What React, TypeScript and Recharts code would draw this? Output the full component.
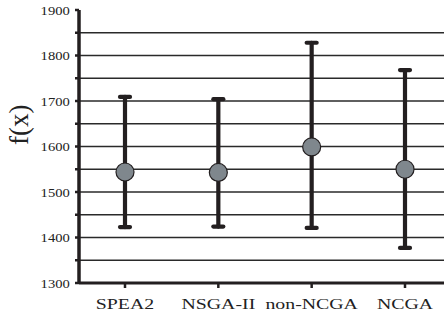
import React from 'react';
import { CartesianGrid, ComposedChart, ErrorBar, Line, XAxis, YAxis } from 'recharts';

// Mean f(x) per algorithm with min/max range bars.
const algorithms = ['SPEA2', 'NSGA-II', 'non-NCGA', 'NCGA'];
const means = [1544, 1543, 1599, 1550];
const lows = [1423, 1424, 1421, 1377];
const highs = [1709, 1704, 1828, 1768];
const yTicks = [1300, 1350, 1400, 1450, 1500, 1550, 1600, 1650, 1700, 1750, 1800, 1850, 1900];
const gridLines = [1350, 1400, 1450, 1500, 1550, 1600, 1650, 1700, 1750, 1800, 1850];

const INK = '#231f20';
const SERIF = '"Liberation Serif", "DejaVu Serif", serif';

const data = algorithms.map((name, i) => ({
  name,
  mean: means[i],
  range: [means[i] - lows[i], highs[i] - means[i]],
}));

function XTick({ x, y, payload }: any) {
  return (
    <g transform={`translate(${x},${y})`}>
      <text transform="scale(1.28,1)" y={19} textAnchor="middle" fontFamily={SERIF} fontSize={15.5} fill="#222">
        {payload.value}
      </text>
    </g>
  );
}

function YTick({ x, y, payload }: any) {
  if (payload.value % 100 !== 0) return null;
  return (
    <g transform={`translate(${x},${y})`}>
      <text transform="scale(1.08,1)" x={-3} dy={4.8} textAnchor="end" fontFamily={SERIF} fontSize={13.5} fill="#222">
        {payload.value}
      </text>
    </g>
  );
}

function YLabel({ viewBox }: any) {
  const cx = viewBox.x + 28;
  const cy = viewBox.y + viewBox.height * 0.42;
  return (
    <text
      transform={`translate(${cx},${cy}) rotate(-90)`}
      textAnchor="middle"
      fontFamily={SERIF}
      fontSize={27}
      fill="#222"
    >
      f(x)
    </text>
  );
}

export default function App() {
  return (
    <div style={{ position: 'absolute', left: 0, top: 0, width: 444, height: 320, overflow: 'hidden', background: '#fff' }}>
      <ComposedChart width={458} height={320} data={data} margin={{ top: 10, right: 6, bottom: 0, left: 0 }}>
        <CartesianGrid horizontal vertical={false} horizontalValues={gridLines} stroke="#2a2a2a" strokeWidth={1.4} />
        <XAxis
          dataKey="name"
          height={37}
          padding={{ left: 46, right: 47 }}
          tick={<XTick />}
          tickSize={5}
          axisLine={{ stroke: INK, strokeWidth: 3 }}
          tickLine={{ stroke: INK, strokeWidth: 2.5 }}
        />
        <YAxis
          width={79}
          domain={[1300, 1900]}
          ticks={yTicks}
          interval={0}
          tick={<YTick />}
          tickSize={4}
          axisLine={{ stroke: INK, strokeWidth: 3.5 }}
          tickLine={{ stroke: INK, strokeWidth: 2.5 }}
          label={<YLabel />}
        />
        <Line
          dataKey="mean"
          stroke="none"
          isAnimationActive={false}
          dot={{ r: 9, fill: '#7f878d', stroke: INK, strokeWidth: 1.2 }}
          activeDot={false}
        >
          <ErrorBar dataKey="range" direction="y" width={5} stroke={INK} strokeWidth={4.2} strokeLinecap="round" />
        </Line>
      </ComposedChart>
    </div>
  );
}
